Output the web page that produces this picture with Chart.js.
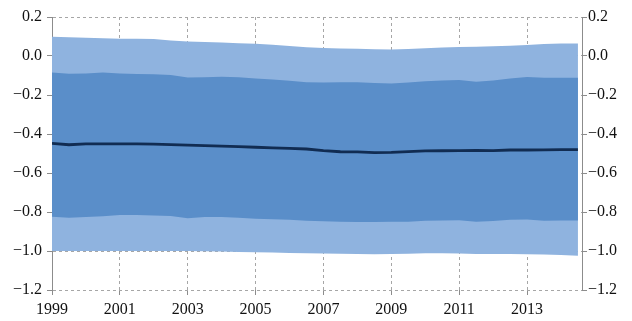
<!DOCTYPE html>
<html>
<head>
<meta charset="utf-8">
<script src="https://cdn.jsdelivr.net/npm/chart.js@4/dist/chart.umd.min.js"></script>
<style>
    body { margin: 0; background: #fff; }
    #fanCanvas { display: block; }
</style>
</head>
<body>
<canvas id="fanCanvas" width="632" height="321"></canvas>
<script>
//half-year steps, 1999 to mid 2014
const years = [1999, 1999.5, 2000, 2000.5, 2001, 2001.5, 2002, 2002.5, 2003, 2003.5,
    2004, 2004.5, 2005, 2005.5, 2006, 2006.5, 2007, 2007.5, 2008, 2008.5,
    2009, 2009.5, 2010, 2010.5, 2011, 2011.5, 2012, 2012.5, 2013, 2013.5,
    2014, 2014.5];

const outerUpper = [0.099, 0.096, 0.093, 0.091, 0.089, 0.088, 0.087, 0.079, 0.075, 0.072,
    0.069, 0.066, 0.063, 0.058, 0.051, 0.045, 0.041, 0.039, 0.037, 0.034,
    0.033, 0.036, 0.040, 0.043, 0.046, 0.048, 0.050, 0.053, 0.057, 0.062,
    0.064, 0.064];

const innerUpper = [-0.084, -0.091, -0.090, -0.085, -0.090, -0.092, -0.094, -0.097, -0.110, -0.109,
    -0.106, -0.109, -0.115, -0.121, -0.127, -0.134, -0.136, -0.135, -0.135, -0.138,
    -0.141, -0.136, -0.130, -0.126, -0.123, -0.132, -0.125, -0.115, -0.108, -0.112,
    -0.111, -0.111];

const median = [-0.448, -0.455, -0.451, -0.451, -0.451, -0.451, -0.452, -0.455, -0.457, -0.460,
    -0.462, -0.465, -0.468, -0.471, -0.474, -0.477, -0.485, -0.491, -0.492, -0.495,
    -0.494, -0.490, -0.487, -0.486, -0.485, -0.484, -0.485, -0.482, -0.482, -0.481,
    -0.480, -0.480];

const innerLower = [-0.824, -0.829, -0.826, -0.822, -0.816, -0.815, -0.818, -0.820, -0.832, -0.826,
    -0.825, -0.830, -0.834, -0.837, -0.840, -0.845, -0.848, -0.850, -0.851, -0.851,
    -0.850, -0.850, -0.845, -0.843, -0.842, -0.850, -0.846, -0.840, -0.838, -0.845,
    -0.843, -0.844];

const outerLower = [-1.000, -1.000, -1.000, -1.000, -1.000, -1.000, -1.000, -1.000, -1.000, -1.001,
    -1.002, -1.005, -1.006, -1.008, -1.010, -1.012, -1.013, -1.014, -1.015, -1.017,
    -1.016, -1.014, -1.012, -1.012, -1.013, -1.015, -1.016, -1.016, -1.017, -1.018,
    -1.020, -1.024];

const xTicks = [1999, 2001, 2003, 2005, 2007, 2009, 2011, 2013];
const yTicks = [0.2, 0.0, -0.2, -0.4, -0.6, -0.8, -1.0, -1.2];

const lightBlue = "#8fb3df";
const midBlue = "#5a8ec9";
const navy = "#112c52";
const gridGray = "#a6a6a6";
const axisGray = "#8c8c8c";

function toPoints(values) {
    return years.map((x, i) => ({ x: x, y: values[i] }));
}

function band(values, fillTarget, color, order) {
    return {
        data: toPoints(values),
        borderWidth: 0,
        pointRadius: 0,
        backgroundColor: color,
        fill: fillTarget,
        tension: 0,
        order: order
    };
}

function fmtY(v) {
    return v.toFixed(1).replace("-", "\u2212");
}

function setTicks(list) {
    return scale => { scale.ticks = list.map(v => ({ value: v })); };
}

const font = { family: "'Liberation Serif', 'Times New Roman', serif", size: 16 };

const ctx = document.getElementById("fanCanvas").getContext("2d");

new Chart(ctx, {
    type: "line",
    data: {
        datasets: [
            band(outerLower, false, lightBlue, 3),
            band(outerUpper, "-1", lightBlue, 3),
            band(innerLower, false, midBlue, 2),
            band(innerUpper, "-1", midBlue, 2),
            {
                data: toPoints(median),
                borderColor: navy,
                borderWidth: 2.8,
                pointRadius: 0,
                fill: false,
                tension: 0,
                order: 1
            }
        ]
    },
    options: {
        responsive: false,
        animation: false,
        layout: { padding: { left: 8, right: 0, top: 17, bottom: 0 } },
        plugins: {
            legend: { display: false },
            tooltip: { enabled: false }
        },
        scales: {
            x: {
                type: "linear",
                min: 1999,
                max: 2014.62,
                afterBuildTicks: setTicks(xTicks),
                //keep the axis band a fixed height under the plot
                afterFit: s => { s.height = 31; },
                ticks: {
                    color: "#111",
                    font: { family: font.family, size: 16, lineHeight: 1 },
                    padding: 7,
                    maxRotation: 0,
                    callback: v => String(v)
                },
                grid: {
                    color: gridGray,
                    tickLength: 5,
                    tickColor: axisGray,
                    tickBorderDash: []
                },
                border: { display: false, dash: [3, 3] }
            },
            y: {
                position: "left",
                min: -1.2,
                max: 0.2,
                afterBuildTicks: setTicks(yTicks),
                afterFit: s => { s.width = 44; },
                ticks: { color: "#111", font: font, padding: 5, callback: fmtY },
                grid: {
                    color: gridGray,
                    tickLength: 5,
                    tickColor: axisGray,
                    tickBorderDash: []
                },
                border: { display: true, color: axisGray, width: 1, dash: [3, 3] }
            },
            y2: {
                position: "right",
                min: -1.2,
                max: 0.2,
                afterBuildTicks: setTicks(yTicks),
                afterFit: s => { s.width = 50; },
                ticks: { color: "#111", font: font, padding: 1, callback: fmtY },
                grid: {
                    drawOnChartArea: false,
                    tickLength: 5,
                    tickColor: axisGray
                },
                border: { display: true, color: axisGray, width: 1 }
            }
        }
    }
});
</script>
</body>
</html>
